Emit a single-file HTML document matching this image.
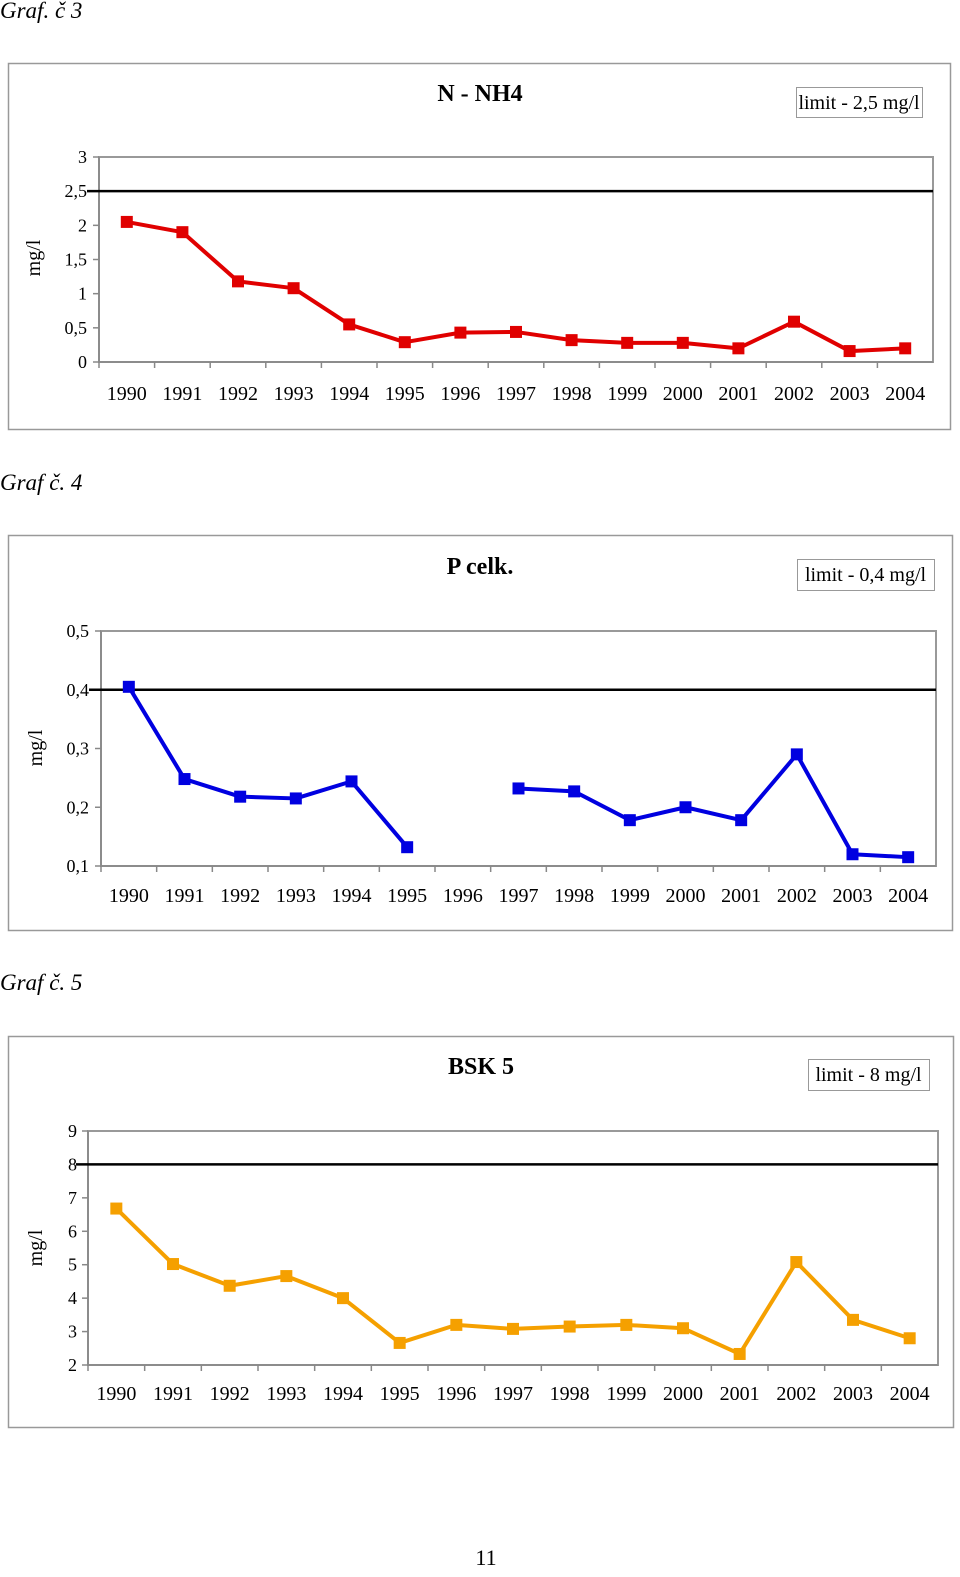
<!DOCTYPE html>
<html><head><meta charset="utf-8">
<style>
html,body{margin:0;padding:0;background:#fff;font-family:"Liberation Serif",serif;overflow:hidden;width:960px;height:1577px;}
svg{display:block}
</style></head>
<body>
<svg id="page" width="960" height="1577" xmlns="http://www.w3.org/2000/svg" font-family="Liberation Serif, serif"></svg>
<script>
const years = ["1990","1991","1992","1993","1994","1995","1996","1997","1998","1999","2000","2001","2002","2003","2004"];
const nh4Values = [2.05,1.9,1.18,1.08,0.55,0.29,0.43,0.44,0.32,0.28,0.28,0.2,0.59,0.16,0.2];
const nh4Ticks = ["0","0,5","1","1,5","2","2,5","3"];
const pValues = [0.405,0.248,0.218,0.215,0.244,0.132,null,0.232,0.227,0.178,0.2,0.178,0.29,0.12,0.115];
const pTicks = ["0,1","0,2","0,3","0,4","0,5"];
const bskValues = [6.68,5.02,4.37,4.66,4.0,2.66,3.2,3.08,3.15,3.2,3.1,2.33,5.08,3.35,2.8];
const bskTicks = ["2","3","4","5","6","7","8","9"];
const NS="http://www.w3.org/2000/svg";
const svg=document.getElementById('page');
function mk(tag,attrs,parent){const e=document.createElementNS(NS,tag);for(const k in attrs)e.setAttribute(k,attrs[k]);(parent||svg).appendChild(e);return e;}
function txt(s,attrs,parent){const e=mk('text',attrs,parent);e.textContent=s;return e;}

const charts=[
 {cap:"Graf. č 3",capY:18,box:[8,63,942,366],title:"N - NH4",tx:480,ty:101,leg:[796,87,126,30],legT:"limit - 2,5 mg/l",
  px:[99,933],py:[157,362],min:0,max:3,step:0.5,ticks:nh4Ticks,limit:2.5,vals:nh4Values,color:"#e00000",yl:[40,258],xlY:400,tickX:88,name:"nh4"},
 {cap:"Graf č. 4",capY:490,box:[8,535,944,395],title:"P celk.",tx:480,ty:574,leg:[797,559,137,31],legT:"limit - 0,4 mg/l",
  px:[101,936],py:[631,866],min:0.1,max:0.5,step:0.1,ticks:pTicks,limit:0.4,vals:pValues,color:"#0000e0",yl:[42,748],xlY:902,tickX:90,name:"p-celk"},
 {cap:"Graf č. 5",capY:990,box:[8,1036,945,391],title:"BSK 5",tx:481,ty:1074,leg:[808,1059,121,31],legT:"limit - 8 mg/l",
  px:[88,938],py:[1131,1365],min:2,max:9,step:1,ticks:bskTicks,limit:8,vals:bskValues,color:"#f5a000",yl:[42,1248],xlY:1400,tickX:78,name:"bsk5"}
];

charts.forEach(c=>{
  const cap=txt(c.cap,{x:0,y:c.capY,'font-size':23,'font-style':'italic'});
  
  const g=mk('g',{});
  
  const b=mk('rect',{x:c.box[0]+0.5,y:c.box[1]+0.5,width:c.box[2],height:c.box[3],fill:'none',stroke:'#999','stroke-width':1.5},g);
  
  const t=txt(c.title,{x:c.tx,y:c.ty,'font-size':24,'font-weight':'bold','text-anchor':'middle'},g);
  
  const lg=mk('g',{},g);
  
  mk('rect',{x:c.leg[0]+0.5,y:c.leg[1]+0.5,width:c.leg[2],height:c.leg[3],fill:'#fff',stroke:'#999','stroke-width':1},lg);
  txt(c.legT,{x:c.leg[0]+c.leg[2]/2,y:c.leg[1]+22,'font-size':20,'text-anchor':'middle'},lg);
  const [x0,x1]=c.px,[yT,yB]=c.py;
  const ys=v=>yB-(v-c.min)/(c.max-c.min)*(yB-yT);
  const cw=(x1-x0)/years.length;
  const xs=i=>x0+cw*(i+0.5);
  const pa=mk('rect',{x:x0,y:yT,width:x1-x0,height:yB-yT,fill:'none',stroke:'#999','stroke-width':2},g);
  
  mk('line',{x1:x0,y1:yT,x2:x0,y2:yB,stroke:'#888','stroke-width':1.5},g);
  mk('line',{x1:x0,y1:yB,x2:x1,y2:yB,stroke:'#888','stroke-width':1.5},g);
  c.ticks.forEach((lab,i)=>{
    const v=c.min+i*c.step,y=ys(v);
    mk('line',{x1:x0-6,y1:y,x2:x0,y2:y,stroke:'#888','stroke-width':1.5},g);
    const tl=txt(lab,{x:c.tickX-1,y:y+6,'font-size':18,'text-anchor':'end'},g);
    
  });
  years.forEach((yr,i)=>{
    mk('line',{x1:x0+cw*i,y1:yB,x2:x0+cw*i,y2:yB+6,stroke:'#888','stroke-width':1.5},g);
    const xl=txt(yr,{x:xs(i),y:c.xlY,'font-size':20,'text-anchor':'middle'},g);
    
  });
  const yl=txt("mg/l",{x:c.yl[0],y:c.yl[1],'font-size':20,'text-anchor':'middle',transform:`rotate(-90 ${c.yl[0]} ${c.yl[1]})`},g);
  
  const lim=mk('line',{x1:x0-12,y1:ys(c.limit),x2:x1,y2:ys(c.limit),stroke:'#000','stroke-width':2.5},g);
  
  let segs=[],cur=[];
  c.vals.forEach((v,i)=>{if(v==null){if(cur.length)segs.push(cur);cur=[];}else cur.push([xs(i),ys(v)]);});
  if(cur.length)segs.push(cur);
  segs.forEach(s=>{
    const pl=mk('polyline',{points:s.map(p=>p.join(',')).join(' '),fill:'none',stroke:c.color,'stroke-width':4,'stroke-linejoin':'round'},g);
    
  });
  c.vals.forEach((v,i)=>{
    if(v==null)return;
    const m=mk('rect',{x:xs(i)-6,y:ys(v)-6,width:12,height:12,fill:c.color},g);
    
  });
});
const pn=txt("11",{x:486,y:1565,'font-size':22,'text-anchor':'middle'});

</script>
</body></html>
